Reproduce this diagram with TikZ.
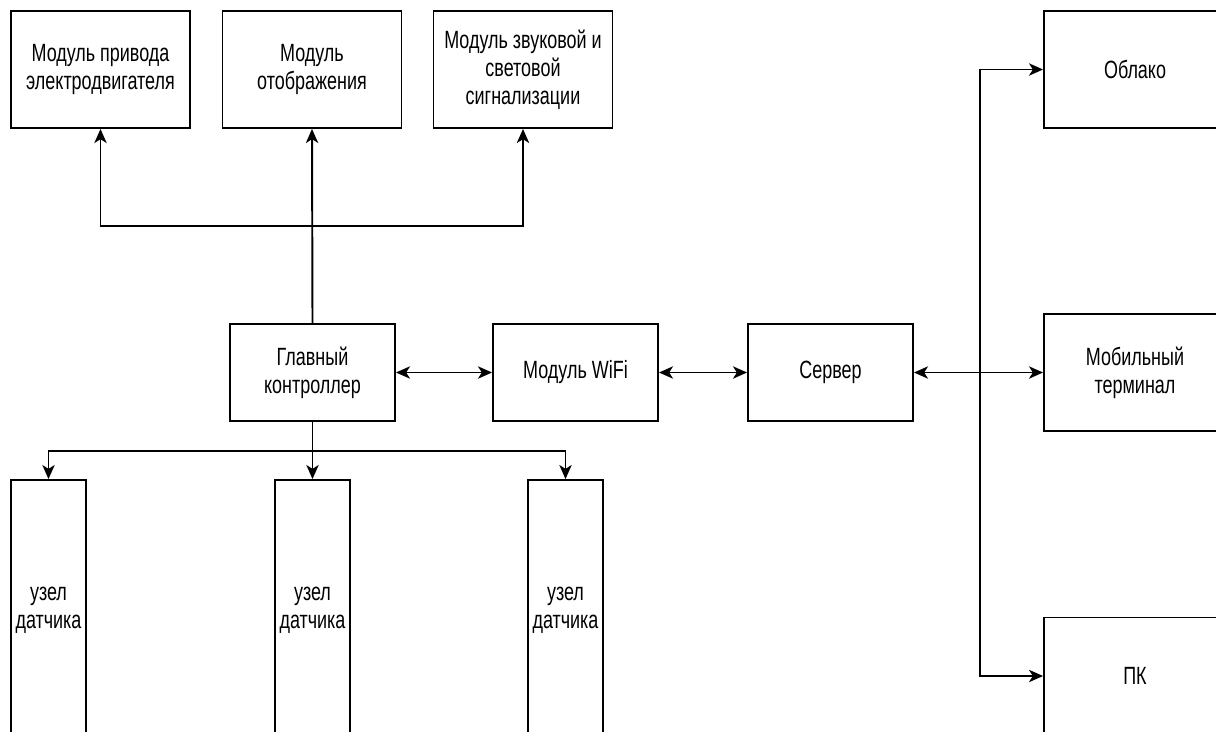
\documentclass[tikz,border=0pt]{standalone}
\usepackage{fontspec}
\setmainfont{Liberation Sans}[FakeStretch=0.72]
\usetikzlibrary{arrows.meta}
\tikzset{
  blk/.style={draw, line width=1.1pt, align=center, inner sep=0pt,
    font=\fontsize{14.2pt}{16pt}\selectfont},
  topblk/.style={blk, minimum width=3.58cm, minimum height=2.34cm},
  midblk/.style={blk, minimum width=3.3cm, minimum height=1.94cm},
  sideblk/.style={blk, minimum width=3.64cm, minimum height=2.34cm},
  sensblk/.style={blk, minimum width=1.5cm, minimum height=5.2cm},
  conn/.style={line width=1.1pt, -{Stealth[length=8pt,width=7pt,inset=2.2pt]}},
  dconn/.style={line width=1.1pt, {Stealth[length=8pt,width=7pt,inset=2.2pt]}-{Stealth[length=8pt,width=7pt,inset=2.2pt]}}
}
\begin{document}
\begin{tikzpicture}[x=0.02cm,y=-0.02cm]
  \useasboundingbox (0,0) rectangle (1216,731);
  \clip (0,0) rectangle (1216,731);
  % upper modules
  \node[topblk] (drive) at (100.5,69.5) {Модуль привода\\электродвигателя};
  \node[topblk] (display) at (312,69.5) {Модуль\\отображения};
  \node[topblk] (alarm) at (523,69.5) {Модуль звуковой и\\световой\\сигнализации};
  % main chain
  \node[midblk] (mcu) at (312.5,372.5) {Главный\\контроллер};
  \node[midblk] (wifi) at (575.5,372.5) {Модуль WiFi};
  \node[midblk] (server) at (830.5,372.5) {Сервер};
  % clients
  \node[sideblk] (cloud) at (1135,69.5) {Облако};
  \node[sideblk] (mobile) at (1135,372.5) {Мобильный\\терминал};
  \node[sideblk] (pc) at (1135,676) {ПК};
  % sensor nodes
  \node[sensblk] (sens1) at (48.5,610) {узел\\датчика};
  \node[sensblk] (sens2) at (312.5,610) {узел\\датчика};
  \node[sensblk] (sens3) at (565.5,610) {узел\\датчика};
  % buses
  \coordinate (topbus) at (312.5,226);
  \coordinate (botbus) at (312.5,451);
  \coordinate (rbus) at (980,372.5);
  \draw[conn] (mcu.north) -- (display.south);
  \draw[conn] (topbus) -| (drive.south);
  \draw[conn] (topbus) -| (alarm.south);
  \draw[conn] (mcu.south) -- (sens2.north);
  \draw[conn] (botbus) -| (sens1.north);
  \draw[conn] (botbus) -| (sens3.north);
  \draw[dconn] (mcu) -- (wifi);
  \draw[dconn] (wifi) -- (server);
  \draw[dconn] (server) -- (mobile);
  \draw[conn] (rbus) |- (cloud.west);
  \draw[conn] (rbus) |- (pc.west);
\end{tikzpicture}
\end{document}
